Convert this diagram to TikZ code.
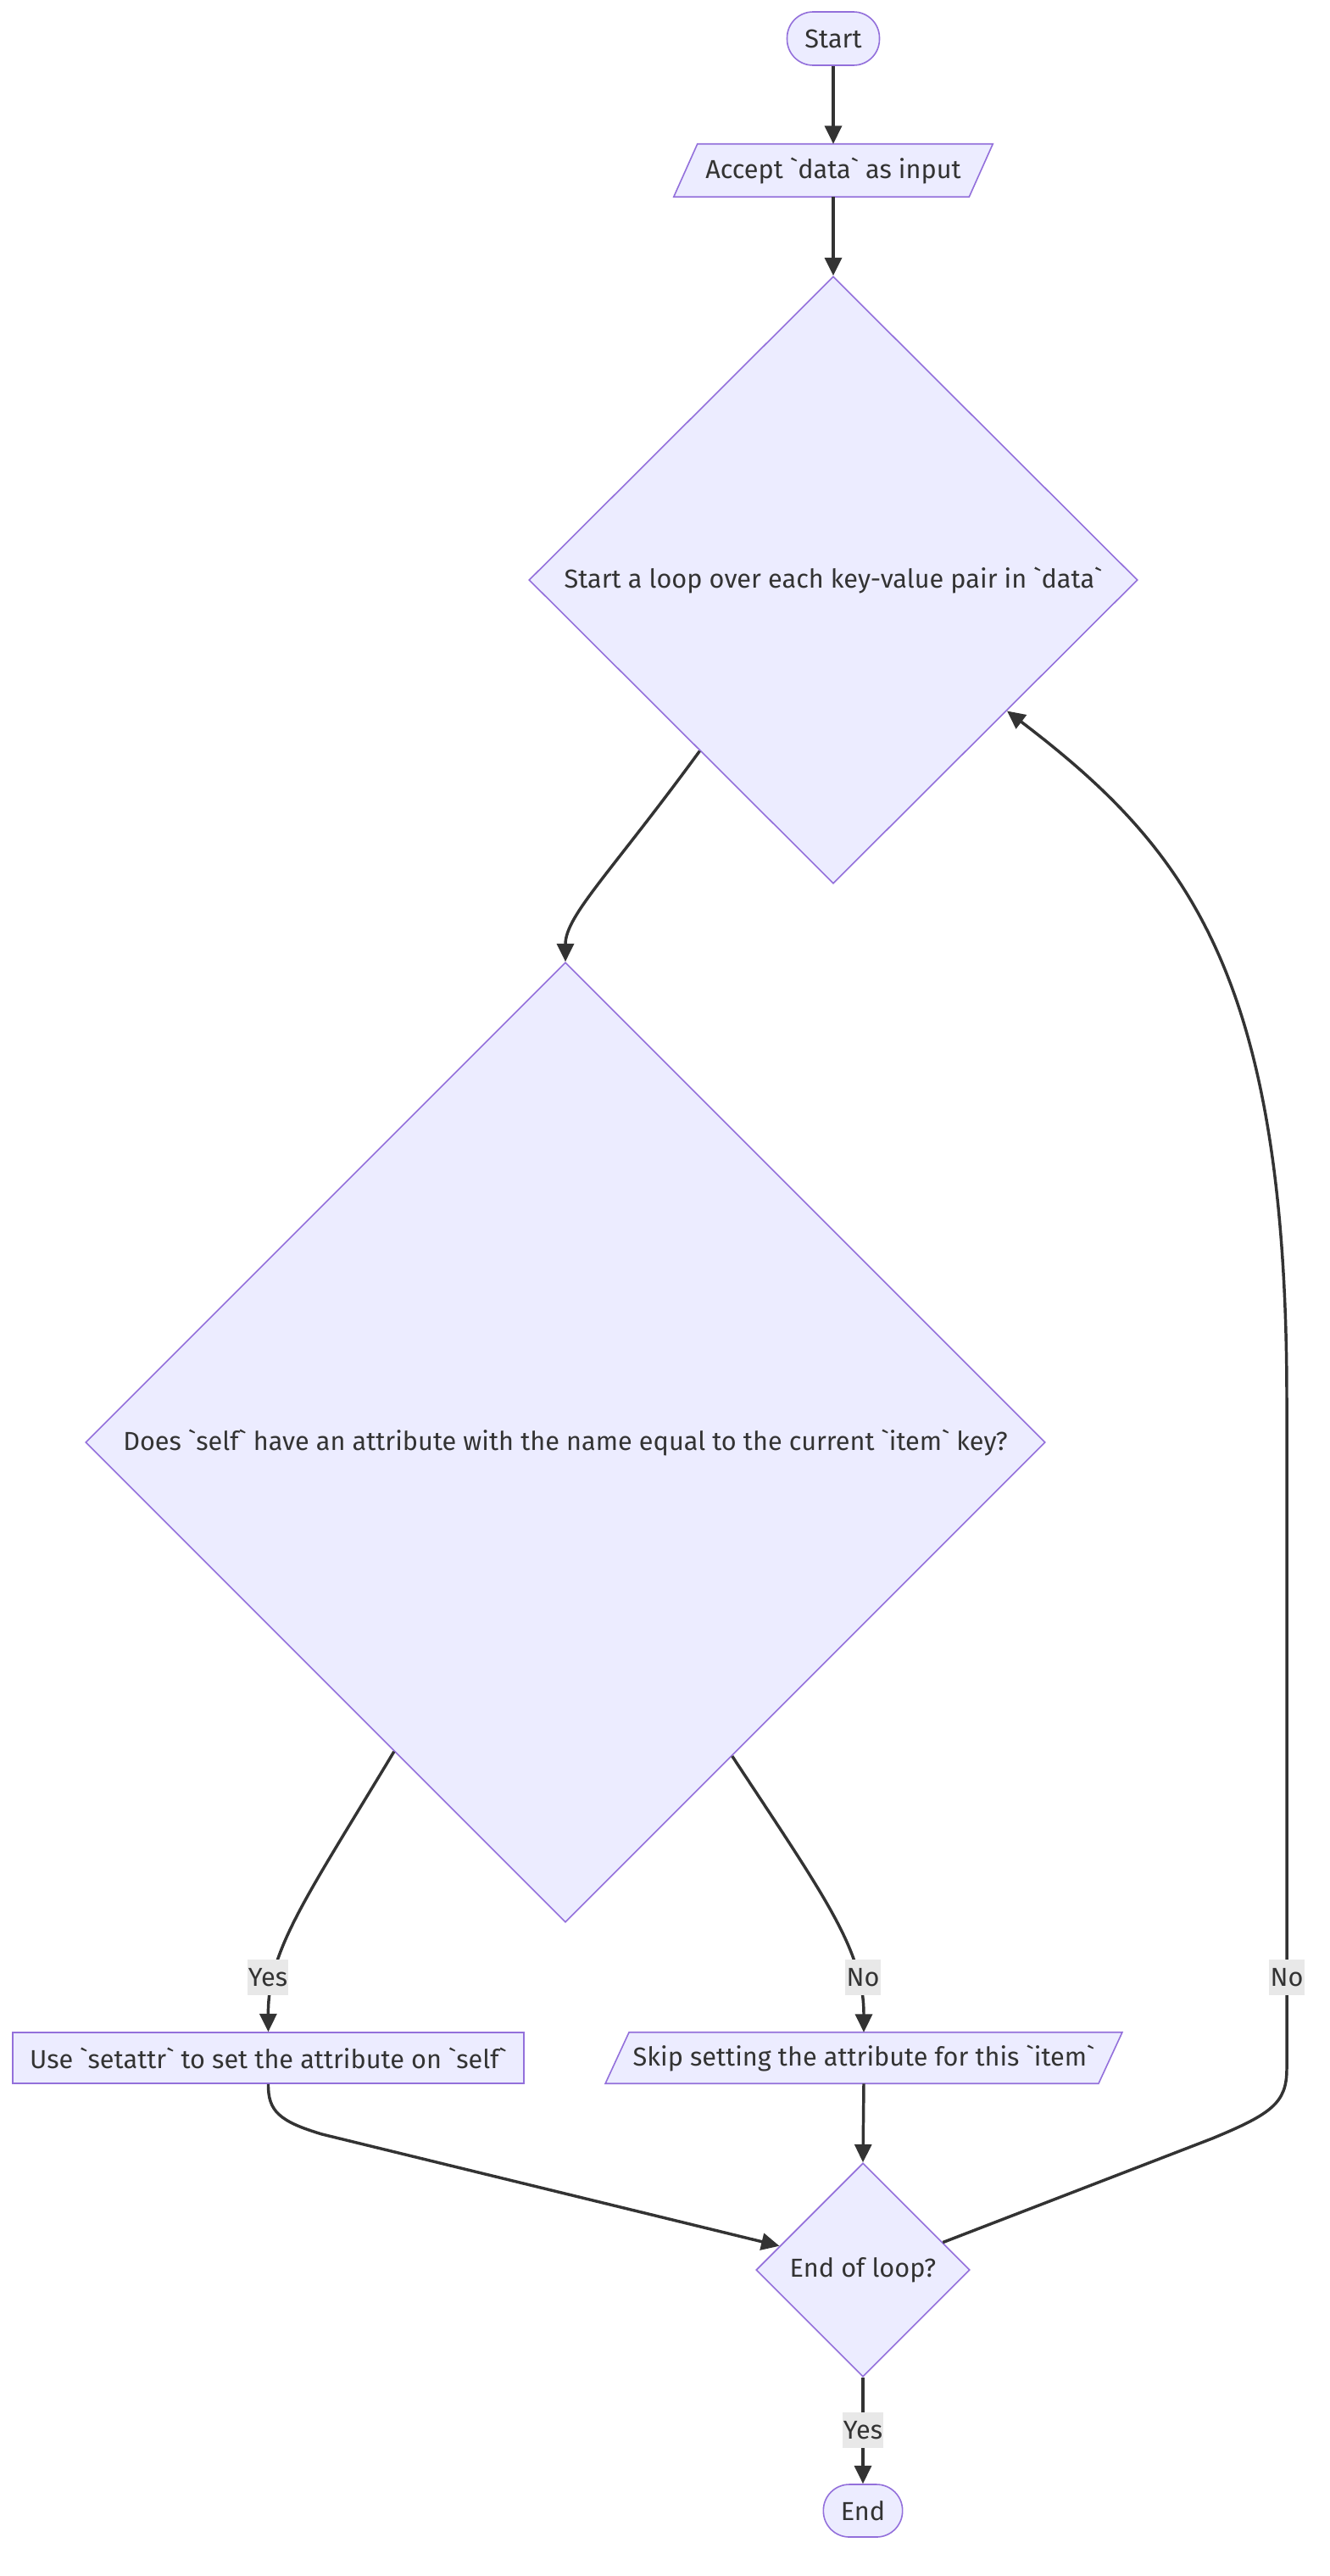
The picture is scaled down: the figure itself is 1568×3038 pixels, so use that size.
\documentclass[tikz,border=0pt]{standalone}
\usepackage{fontspec}
\setmainfont{Fira Sans}
\usetikzlibrary{shapes.geometric,arrows.meta,backgrounds}
\definecolor{nodefill}{HTML}{ECECFF}
\definecolor{nodeline}{HTML}{9370DB}
\definecolor{edgecol}{HTML}{333333}
\definecolor{labelbg}{HTML}{E8E8E8}
\newcommand{\bq}{\textasciigrave}
\tikzset{
  base/.style={draw=nodeline, fill=nodefill, line width=1.2pt, text=edgecol, font=\fontsize{23}{27}\selectfont, inner sep=0pt},
  term/.style={base, rectangle, rounded corners=23pt, minimum height=46.5pt},
  proc/.style={base, rectangle, minimum height=45pt},
  dec/.style={base, diamond, aspect=1},
  iobox/.style={rectangle, text=edgecol, font=\fontsize{23}{27}\selectfont, inner sep=0pt, minimum height=45pt},
  arr/.style={draw=edgecol, line width=2.6pt, -{Triangle[length=16pt,width=15pt]}},
  lbl/.style={fill=labelbg, text=edgecol, font=\fontsize{23}{27}\selectfont, inner xsep=1pt, inner ysep=0pt, minimum height=31pt},
}
\begin{document}
\begin{tikzpicture}[x=0.75pt, y=-0.75pt]
\useasboundingbox (0,0) rectangle (1568,3038);
% nodes
\node[term, minimum width=81.75pt, minimum height=47.25pt] (start) at (983,45.5) {Start};
\node[iobox, minimum width=261pt, minimum height=46.5pt] (acc) at (983,201) {Accept \bq data\bq{} as input};
\node[dec, minimum width=538.5pt, minimum height=537pt] (d1) at (983,684) {Start a loop over each key-value pair in \bq data\bq};
\node[dec, minimum width=849pt, minimum height=849pt] (d2) at (667,1701) {Does \bq self\bq{} have an attribute with the name equal to the current \bq item\bq{} key?};
\node[proc, minimum width=452pt] (use) at (316.5,2427) {Use \bq setattr\bq{} to set the attribute on \bq self\bq};
\node[iobox, minimum width=436pt] (skip) at (1019,2427) {Skip setting the attribute for this \bq item\bq};
\node[dec, minimum width=189pt, minimum height=189pt] (d3) at (1018,2677) {End of loop?};
\node[term, minimum width=70pt] (finish) at (1018,2961) {End};
% parallelogram outlines
\begin{scope}[on background layer]
\draw[base] ([xshift=-10.5pt]acc.south west) -- ([xshift=-10.5pt]acc.south east) -- ([xshift=10.5pt]acc.north east) -- ([xshift=10.5pt]acc.north west) -- cycle;
\draw[base] ([xshift=-10.5pt]skip.south west) -- ([xshift=-10.5pt]skip.south east) -- ([xshift=10.5pt]skip.north east) -- ([xshift=10.5pt]skip.north west) -- cycle;
\end{scope}
% edges
\draw[arr] (start) -- (acc);
\draw[arr] (acc) -- (d1);
\draw[arr] (d1.232.5) .. controls (720,1030) and (667,1080) .. (d2.north);
\draw[arr] (d2.241.2) .. controls (360,2240) and (316,2300) .. (use.north);
\draw[arr] (d2.298.8) .. controls (975,2240) and (1019,2300) .. (skip.north);
\draw[arr] (skip.south) -- (d3.north);
\draw[arr] (use.south) .. controls (316,2490) and (330,2502) .. (380,2517) -- (d3.164.5);
\draw[arr] (d3.19.7) -- (1430,2522) .. controls (1500,2493) and (1518,2480) .. (1518,2440) -- (1518,1650) .. controls (1518,1150) and (1400,1000) .. (d1.323.2);
\draw[arr] (d3) -- (finish);
% edge labels
\node[lbl] (l1) at (316,2332) {Yes};
\node[lbl] (l2) at (1018,2332) {No};
\node[lbl] (l3) at (1518,2332) {No};
\node[lbl] (l4) at (1018,2866) {Yes};
\end{tikzpicture}
\end{document}
